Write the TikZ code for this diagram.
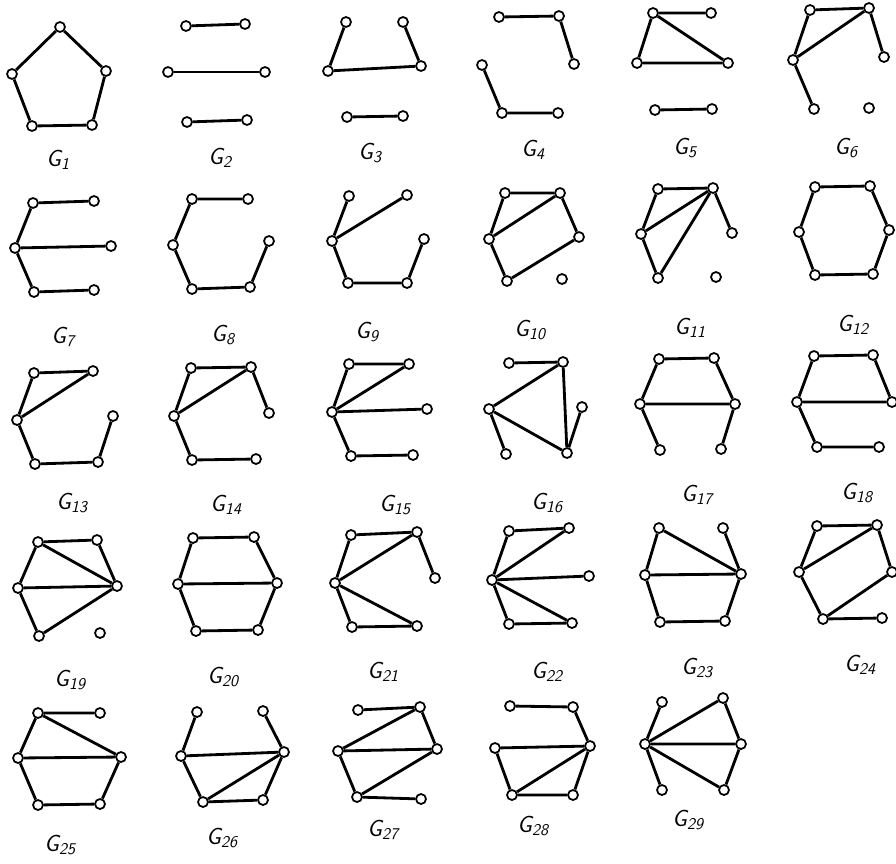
\documentclass[tikz,border=0pt]{standalone}
\usepackage{tikz}

\begin{document}
\begin{tikzpicture}[x=0.03cm, y=-0.03cm,
  vtx/.style={circle, draw, fill=white, inner sep=0pt, minimum size=0.3cm, line width=1.5pt},
  edge/.style={line width=2.4pt},
  glabel/.style={font=\fontsize{20}{24}\selectfont\sffamily\itshape},
]
\useasboundingbox (0,0) rectangle (896,863);

% G1
\node[vtx] (g1a) at (60,27) {};
\node[vtx] (g1b) at (106,71) {};
\node[vtx] (g1c) at (92,125) {};
\node[vtx] (g1d) at (32,126) {};
\node[vtx] (g1e) at (12,74) {};
\draw[edge] (g1a) -- (g1b) -- (g1c) -- (g1d) -- (g1e) -- (g1a);
\node[glabel] (l1) at (58,160) {G\textsubscript{1}};

% G2
\node[vtx] (g2a) at (186,26) {};
\node[vtx] (g2b) at (245,24) {};
\node[vtx] (g2c) at (168,72) {};
\node[vtx] (g2d) at (265,72) {};
\node[vtx] (g2e) at (187,122) {};
\node[vtx] (g2f) at (247,120) {};
\draw[edge] (g2a) -- (g2b);
\draw[edge] (g2c) -- (g2d);
\draw[edge] (g2e) -- (g2f);
\node[glabel] (l2) at (220,158) {G\textsubscript{2}};

% G3
\node[vtx] (g3a) at (346,22) {};
\node[vtx] (g3b) at (403,22) {};
\node[vtx] (g3c) at (328,71) {};
\node[vtx] (g3d) at (421,66) {};
\node[vtx] (g3e) at (347,117) {};
\node[vtx] (g3f) at (403,116) {};
\draw[edge] (g3a) -- (g3c) -- (g3d) -- (g3b);
\draw[edge] (g3e) -- (g3f);
\node[glabel] (l3) at (370,153) {G\textsubscript{3}};

% G4
\node[vtx] (g4a) at (499,17) {};
\node[vtx] (g4b) at (559,16) {};
\node[vtx] (g4c) at (574,64) {};
\node[vtx] (g4d) at (482,65) {};
\node[vtx] (g4e) at (502,113) {};
\node[vtx] (g4f) at (558,113) {};
\draw[edge] (g4a) -- (g4b) -- (g4c);
\draw[edge] (g4d) -- (g4e) -- (g4f);
\node[glabel] (l4) at (533,150) {G\textsubscript{4}};

% G5
\node[vtx] (g5a) at (653,13) {};
\node[vtx] (g5b) at (711,13) {};
\node[vtx] (g5c) at (637,63) {};
\node[vtx] (g5d) at (728,63) {};
\node[vtx] (g5e) at (655,110) {};
\node[vtx] (g5f) at (712,109) {};
\draw[edge] (g5b) -- (g5a) -- (g5c) -- (g5d) -- (g5a);
\draw[edge] (g5e) -- (g5f);
\node[glabel] (l5) at (685,148) {G\textsubscript{5}};

% G6
\node[vtx] (g6a) at (810,10) {};
\node[vtx] (g6b) at (869,8) {};
\node[vtx] (g6c) at (793,60) {};
\node[vtx] (g6d) at (884,57) {};
\node[vtx] (g6e) at (814,109) {};
\node[vtx] (g6f) at (869,108) {};
\draw[edge] (g6a) -- (g6b) -- (g6c) -- (g6a);
\draw[edge] (g6b) -- (g6d);
\draw[edge] (g6c) -- (g6e);
\node[glabel] (l6) at (846,148) {G\textsubscript{6}};

% G7
\node[vtx] (g7a) at (33,203) {};
\node[vtx] (g7b) at (94,201) {};
\node[vtx] (g7c) at (15,248) {};
\node[vtx] (g7d) at (111,246) {};
\node[vtx] (g7e) at (34,292) {};
\node[vtx] (g7f) at (94,290) {};
\draw[edge] (g7b) -- (g7a) -- (g7c) -- (g7e) -- (g7f);
\draw[edge] (g7c) -- (g7d);
\node[glabel] (l7) at (63,337) {G\textsubscript{7}};

% G8
\node[vtx] (g8a) at (192,199) {};
\node[vtx] (g8b) at (248,199) {};
\node[vtx] (g8c) at (173,245) {};
\node[vtx] (g8d) at (269,241) {};
\node[vtx] (g8e) at (192,289) {};
\node[vtx] (g8f) at (250,287) {};
\draw[edge] (g8b) -- (g8a) -- (g8c) -- (g8e) -- (g8f) -- (g8d);
\node[glabel] (l8) at (223,335) {G\textsubscript{8}};

% G9
\node[vtx] (g9a) at (349,196) {};
\node[vtx] (g9b) at (407,195) {};
\node[vtx] (g9c) at (332,241) {};
\node[vtx] (g9d) at (424,239) {};
\node[vtx] (g9e) at (348,283) {};
\node[vtx] (g9f) at (407,283) {};
\draw[edge] (g9a) -- (g9c) -- (g9e) -- (g9f) -- (g9d);
\draw[edge] (g9c) -- (g9b);
\node[glabel] (l9) at (367,332) {G\textsubscript{9}};

% G10
\node[vtx] (g10a) at (505,193) {};
\node[vtx] (g10b) at (560,193) {};
\node[vtx] (g10c) at (489,239) {};
\node[vtx] (g10d) at (579,237) {};
\node[vtx] (g10e) at (507,281) {};
\node[vtx] (g10f) at (562,279) {};
\draw[edge] (g10a) -- (g10b) -- (g10d) -- (g10e) -- (g10c) -- (g10a);
\draw[edge] (g10c) -- (g10b);
\node[glabel] (l10) at (530,330) {G\textsubscript{10}};

% G11
\node[vtx] (g11a) at (658,189) {};
\node[vtx] (g11b) at (713,188) {};
\node[vtx] (g11c) at (641,234) {};
\node[vtx] (g11d) at (732,233) {};
\node[vtx] (g11e) at (658,278) {};
\node[vtx] (g11f) at (716,277) {};
\draw[edge] (g11a) -- (g11b) -- (g11c) -- (g11a);
\draw[edge] (g11c) -- (g11e) -- (g11b) -- (g11d);
\node[glabel] (l11) at (690,328) {G\textsubscript{11}};

% G12
\node[vtx] (g12a) at (815,187) {};
\node[vtx] (g12b) at (870,186) {};
\node[vtx] (g12c) at (799,232) {};
\node[vtx] (g12d) at (889,230) {};
\node[vtx] (g12e) at (815,275) {};
\node[vtx] (g12f) at (873,274) {};
\draw[edge] (g12a) -- (g12b) -- (g12d) -- (g12f) -- (g12e) -- (g12c) -- (g12a);
\node[glabel] (l12) at (853,325) {G\textsubscript{12}};

% G13
\node[vtx] (g13a) at (34,373) {};
\node[vtx] (g13b) at (93,371) {};
\node[vtx] (g13c) at (17,420) {};
\node[vtx] (g13d) at (113,416) {};
\node[vtx] (g13e) at (35,464) {};
\node[vtx] (g13f) at (98,462) {};
\draw[edge] (g13a) -- (g13b) -- (g13c) -- (g13a);
\draw[edge] (g13c) -- (g13e) -- (g13f) -- (g13d);
\node[glabel] (l13) at (72,503) {G\textsubscript{13}};

% G14
\node[vtx] (g14a) at (191,368) {};
\node[vtx] (g14b) at (251,367) {};
\node[vtx] (g14c) at (174,416) {};
\node[vtx] (g14d) at (269,413) {};
\node[vtx] (g14e) at (192,460) {};
\node[vtx] (g14f) at (256,459) {};
\draw[edge] (g14a) -- (g14b) -- (g14c) -- (g14a);
\draw[edge] (g14b) -- (g14d);
\draw[edge] (g14c) -- (g14e) -- (g14f);
\node[glabel] (l14) at (226,505) {G\textsubscript{14}};

% G15
\node[vtx] (g15a) at (349,364) {};
\node[vtx] (g15b) at (409,364) {};
\node[vtx] (g15c) at (332,412) {};
\node[vtx] (g15d) at (427,409) {};
\node[vtx] (g15e) at (351,456) {};
\node[vtx] (g15f) at (413,455) {};
\draw[edge] (g15a) -- (g15b) -- (g15c) -- (g15a);
\draw[edge] (g15c) -- (g15d);
\draw[edge] (g15c) -- (g15e) -- (g15f);
\node[glabel] (l15) at (395,505) {G\textsubscript{15}};

% G16
\node[vtx] (g16a) at (509,363) {};
\node[vtx] (g16b) at (563,362) {};
\node[vtx] (g16c) at (489,409) {};
\node[vtx] (g16d) at (582,407) {};
\node[vtx] (g16e) at (506,454) {};
\node[vtx] (g16f) at (567,453) {};
\draw[edge] (g16a) -- (g16b) -- (g16c) -- (g16f) -- (g16b);
\draw[edge] (g16c) -- (g16e);
\draw[edge] (g16f) -- (g16d);
\node[glabel] (l16) at (547,503) {G\textsubscript{16}};

% G17
\node[vtx] (g17a) at (659,359) {};
\node[vtx] (g17b) at (714,358) {};
\node[vtx] (g17c) at (640,404) {};
\node[vtx] (g17d) at (735,404) {};
\node[vtx] (g17e) at (660,450) {};
\node[vtx] (g17f) at (721,449) {};
\draw[edge] (g17a) -- (g17b) -- (g17d) -- (g17c) -- (g17a);
\draw[edge] (g17c) -- (g17e);
\draw[edge] (g17d) -- (g17f);
\node[glabel] (l17) at (697,495) {G\textsubscript{17}};

% G18
\node[vtx] (g18a) at (814,356) {};
\node[vtx] (g18b) at (873,355) {};
\node[vtx] (g18c) at (797,402) {};
\node[vtx] (g18d) at (892,402) {};
\node[vtx] (g18e) at (817,447) {};
\node[vtx] (g18f) at (879,447) {};
\draw[edge] (g18a) -- (g18b) -- (g18d) -- (g18c) -- (g18a);
\draw[edge] (g18c) -- (g18e) -- (g18f);
\node[glabel] (l18) at (857,493) {G\textsubscript{18}};

% G19
\node[vtx] (g19a) at (38,542) {};
\node[vtx] (g19b) at (97,540) {};
\node[vtx] (g19c) at (18,588) {};
\node[vtx] (g19d) at (117,586) {};
\node[vtx] (g19e) at (39,636) {};
\node[vtx] (g19f) at (100,633) {};
\draw[edge] (g19a) -- (g19b) -- (g19d) -- (g19a) -- (g19c) -- (g19d) -- (g19e) -- (g19c);
\node[glabel] (l19) at (70,680) {G\textsubscript{19}};

% G20
\node[vtx] (g20a) at (193,538) {};
\node[vtx] (g20b) at (254,537) {};
\node[vtx] (g20c) at (178,584) {};
\node[vtx] (g20d) at (277,583) {};
\node[vtx] (g20e) at (196,631) {};
\node[vtx] (g20f) at (258,630) {};
\draw[edge] (g20a) -- (g20b) -- (g20d) -- (g20f) -- (g20e) -- (g20c) -- (g20a);
\draw[edge] (g20c) -- (g20d);
\node[glabel] (l20) at (223,677) {G\textsubscript{20}};

% G21
\node[vtx] (g21a) at (351,535) {};
\node[vtx] (g21b) at (417,532) {};
\node[vtx] (g21c) at (335,583) {};
\node[vtx] (g21d) at (435,578) {};
\node[vtx] (g21e) at (352,627) {};
\node[vtx] (g21f) at (417,626) {};
\draw[edge] (g21a) -- (g21b) -- (g21c) -- (g21a);
\draw[edge] (g21b) -- (g21d);
\draw[edge] (g21c) -- (g21f) -- (g21e) -- (g21c);
\node[glabel] (l21) at (383,672) {G\textsubscript{21}};

% G22
\node[vtx] (g22a) at (509,531) {};
\node[vtx] (g22b) at (569,528) {};
\node[vtx] (g22c) at (492,580) {};
\node[vtx] (g22d) at (589,576) {};
\node[vtx] (g22e) at (509,624) {};
\node[vtx] (g22f) at (572,623) {};
\draw[edge] (g22a) -- (g22b) -- (g22c) -- (g22a);
\draw[edge] (g22c) -- (g22d);
\draw[edge] (g22c) -- (g22f) -- (g22e) -- (g22c);
\node[glabel] (l22) at (547,672) {G\textsubscript{22}};

% G23
\node[vtx] (g23a) at (659,528) {};
\node[vtx] (g23b) at (723,528) {};
\node[vtx] (g23c) at (645,575) {};
\node[vtx] (g23d) at (741,574) {};
\node[vtx] (g23e) at (660,622) {};
\node[vtx] (g23f) at (725,621) {};
\draw[edge] (g23a) -- (g23d) -- (g23c) -- (g23a);
\draw[edge] (g23b) -- (g23d) -- (g23f) -- (g23e) -- (g23c);
\node[glabel] (l23) at (697,668) {G\textsubscript{23}};

% G24
\node[vtx] (g24a) at (817,526) {};
\node[vtx] (g24b) at (877,525) {};
\node[vtx] (g24c) at (799,572) {};
\node[vtx] (g24d) at (892,572) {};
\node[vtx] (g24e) at (823,619) {};
\node[vtx] (g24f) at (882,618) {};
\draw[edge] (g24a) -- (g24b) -- (g24c) -- (g24a);
\draw[edge] (g24b) -- (g24d) -- (g24e) -- (g24c);
\draw[edge] (g24e) -- (g24f);
\node[glabel] (l24) at (860,665) {G\textsubscript{24}};

% G25
\node[vtx] (g25a) at (38,713) {};
\node[vtx] (g25b) at (100,713) {};
\node[vtx] (g25c) at (18,758) {};
\node[vtx] (g25d) at (121,757) {};
\node[vtx] (g25e) at (38,805) {};
\node[vtx] (g25f) at (100,804) {};
\draw[edge] (g25b) -- (g25a) -- (g25d) -- (g25c) -- (g25a);
\draw[edge] (g25c) -- (g25e) -- (g25f) -- (g25d);
\node[glabel] (l25) at (60,845) {G\textsubscript{25}};

% G26
\node[vtx] (g26a) at (197,712) {};
\node[vtx] (g26b) at (263,711) {};
\node[vtx] (g26c) at (181,756) {};
\node[vtx] (g26d) at (284,752) {};
\node[vtx] (g26e) at (203,802) {};
\node[vtx] (g26f) at (263,800) {};
\draw[edge] (g26a) -- (g26c) -- (g26d) -- (g26b);
\draw[edge] (g26c) -- (g26e) -- (g26f) -- (g26d) -- (g26e);
\node[glabel] (l26) at (222,838) {G\textsubscript{26}};

% G27
\node[vtx] (g27a) at (358,710) {};
\node[vtx] (g27b) at (420,707) {};
\node[vtx] (g27c) at (338,751) {};
\node[vtx] (g27d) at (437,749) {};
\node[vtx] (g27e) at (357,797) {};
\node[vtx] (g27f) at (421,799) {};
\draw[edge] (g27a) -- (g27b) -- (g27c) -- (g27d) -- (g27b);
\draw[edge] (g27c) -- (g27e) -- (g27d);
\draw[edge] (g27e) -- (g27f);
\node[glabel] (l27) at (383,830) {G\textsubscript{27}};

% G28
\node[vtx] (g28a) at (510,706) {};
\node[vtx] (g28b) at (573,707) {};
\node[vtx] (g28c) at (495,748) {};
\node[vtx] (g28d) at (590,746) {};
\node[vtx] (g28e) at (512,795) {};
\node[vtx] (g28f) at (573,795) {};
\draw[edge] (g28a) -- (g28b) -- (g28d) -- (g28c) -- (g28e) -- (g28d);
\draw[edge] (g28e) -- (g28f) -- (g28d);
\node[glabel] (l28) at (533,826) {G\textsubscript{28}};

% G29
\node[vtx] (g29a) at (662,702) {};
\node[vtx] (g29b) at (723,698) {};
\node[vtx] (g29c) at (645,744) {};
\node[vtx] (g29d) at (741,744) {};
\node[vtx] (g29e) at (662,790) {};
\node[vtx] (g29f) at (724,790) {};
\draw[edge] (g29a) -- (g29c) -- (g29b) -- (g29d) -- (g29c) -- (g29e);
\draw[edge] (g29c) -- (g29f) -- (g29d);
\node[glabel] (l29) at (688,820) {G\textsubscript{29}};

\end{tikzpicture}
\end{document}
